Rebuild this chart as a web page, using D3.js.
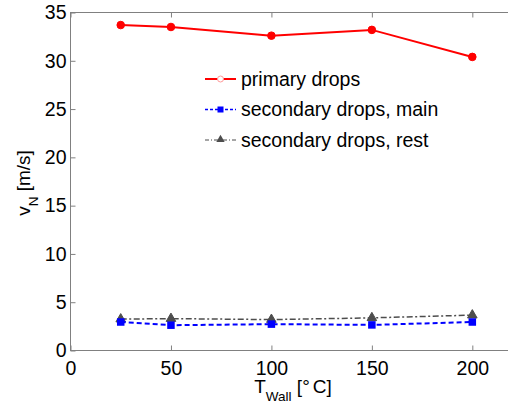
<!DOCTYPE html>
<html>
<head>
<meta charset="utf-8">
<script src="https://cdn.jsdelivr.net/npm/d3@7"></script>
<style>
  body { margin: 0; background: #fff; }
  svg { display: block; font-family: "Liberation Sans", Arial, sans-serif; }
</style>
</head>
<body>
<div class="chart"></div>
<script>
var temps = [25, 50, 100, 150, 200];
var primary = [33.7, 33.5, 32.6, 33.2, 30.4];
var secMain = [2.95, 2.62, 2.73, 2.65, 2.95];
var secRest = [3.25, 3.3, 3.2, 3.38, 3.66];
var xTicks = [0, 50, 100, 150, 200];
var yTicks = [0, 5, 10, 15, 20, 25, 30, 35];
var seriesNames = ["primary drops", "secondary drops, main", "secondary drops, rest"];

var W = 508, H = 405;
var mLeft = 70.5, mTop = 12.5, plotW = 442, plotH = 338;

var svg = d3.select(".chart").append("svg")
    .attr("width", W)
    .attr("height", H);

var x = d3.scaleLinear().domain([0, 220]).range([mLeft, mLeft + plotW]);
var y = d3.scaleLinear().domain([0, 35]).range([mTop + plotH, mTop]);

// box
svg.append("rect")
    .attr("x", mLeft)
    .attr("y", mTop)
    .attr("width", plotW)
    .attr("height", plotH)
    .style("fill", "none")
    .style("stroke", "#808080")
    .style("stroke-width", 1);

// ticks inward
var xAxisB = svg.append("g")
    .attr("transform", "translate(0," + (mTop + plotH) + ")")
    .call(d3.axisBottom(x).tickValues(xTicks).tickSizeInner(-5).tickSizeOuter(0).tickPadding(11));
var xAxisT = svg.append("g")
    .attr("transform", "translate(0," + mTop + ")")
    .call(d3.axisTop(x).tickValues(xTicks).tickSizeInner(-5).tickSizeOuter(0).tickFormat(""));
var yAxisL = svg.append("g")
    .attr("transform", "translate(" + mLeft + ",0)")
    .call(d3.axisLeft(y).tickValues(yTicks).tickSizeInner(-5).tickSizeOuter(0).tickPadding(4));

svg.selectAll(".domain").remove();
svg.selectAll(".tick line").style("stroke", "#808080");
svg.selectAll(".tick text")
    .style("font-family", "Liberation Sans, Arial, sans-serif")
    .style("font-size", "19.5px")
    .style("fill", "#000");
xAxisB.selectAll(".tick text").attr("dy", "0.71em");

var line = d3.line()
    .x(function(d, i) { return x(temps[i]); })
    .y(function(d) { return y(d); });

// secondary rest (gray dash-dot, triangles)
svg.append("path")
    .datum(secRest)
    .attr("d", line)
    .style("fill", "none")
    .style("stroke", "#4d4d4d")
    .style("stroke-width", 1.5)
    .style("stroke-dasharray", "6,2.5,2,2.5");

var tri = d3.symbol().type(d3.symbolTriangle).size(40);
svg.selectAll(".tri")
    .data(secRest)
    .enter().append("path")
    .attr("transform", function(d, i) { return "translate(" + x(temps[i]) + "," + y(d) + ")"; })
    .attr("d", tri)
    .style("fill", "#4d4d4d")
    .style("stroke", "#4d4d4d")
    .style("stroke-width", 1);

// secondary main (blue dashed, squares)
svg.append("path")
    .datum(secMain)
    .attr("d", line)
    .style("fill", "none")
    .style("stroke", "#0000ff")
    .style("stroke-width", 2)
    .style("stroke-dasharray", "5,3");

svg.selectAll(".sq")
    .data(secMain)
    .enter().append("rect")
    .attr("x", function(d, i) { return x(temps[i]) - 3.75; })
    .attr("y", function(d) { return y(d) - 3.75; })
    .attr("width", 7.5)
    .attr("height", 7.5)
    .style("fill", "#0000ff");

// primary (red solid, circles)
svg.append("path")
    .datum(primary)
    .attr("d", line)
    .style("fill", "none")
    .style("stroke", "#ff0000")
    .style("stroke-width", 2);

svg.selectAll(".circ")
    .data(primary)
    .enter().append("circle")
    .attr("cx", function(d, i) { return x(temps[i]); })
    .attr("cy", function(d) { return y(d); })
    .attr("r", 3.8)
    .style("fill", "#ff0000")
    .style("stroke", "#ff0000")
    .style("stroke-width", 1);

// legend
var leg = svg.append("g").attr("transform", "translate(205,79)");
var legStyles = [
  { color: "#ff0000", dash: null, w: 2 },
  { color: "#0000ff", dash: "3,2", w: 1.5 },
  { color: "#4d4d4d", dash: "4,2,1,2", w: 1 }
];
seriesNames.forEach(function(name, i) {
  var g = leg.append("g").attr("transform", "translate(0," + (i * 30.5) + ")");
  g.append("line")
      .attr("x1", 0).attr("x2", 31)
      .style("stroke", legStyles[i].color)
      .style("stroke-width", legStyles[i].w)
      .style("stroke-dasharray", legStyles[i].dash);
  if (i === 0) {
    g.append("circle").attr("cx", 15.5).attr("r", 3)
        .style("fill", "#fff").style("stroke", "#ff9999").style("stroke-width", 1);
  } else if (i === 1) {
    g.append("rect").attr("x", 12.5).attr("y", -3).attr("width", 6).attr("height", 6)
        .style("fill", "#0000ff");
  } else {
    g.append("path").attr("transform", "translate(15.5,-0.5)")
        .attr("d", d3.symbol().type(d3.symbolTriangle).size(30))
        .style("fill", "#4d4d4d");
  }
  g.append("text")
      .attr("x", 36)
      .attr("dy", "0.35em")
      .style("font-size", "19.5px")
      .text(name);
});

// axis labels
var xl = svg.append("text")
    .attr("x", 293)
    .attr("y", 393)
    .attr("text-anchor", "middle")
    .style("font-size", "19px");
xl.append("tspan").text("T");
xl.append("tspan").attr("dy", 8).style("font-size", "13.5px").text("Wall");
xl.append("tspan").attr("dy", -8).text(" [°");
xl.append("tspan").attr("dx", 3).text("C]");

var yl = svg.append("text")
    .attr("transform", "translate(30,183) rotate(-90)")
    .attr("text-anchor", "middle")
    .style("font-size", "19px");
yl.append("tspan").text("v");
yl.append("tspan").attr("dy", 8).style("font-size", "13.5px").text("N");
yl.append("tspan").attr("dy", -8).text(" [m/s]");
</script>
</body>
</html>
